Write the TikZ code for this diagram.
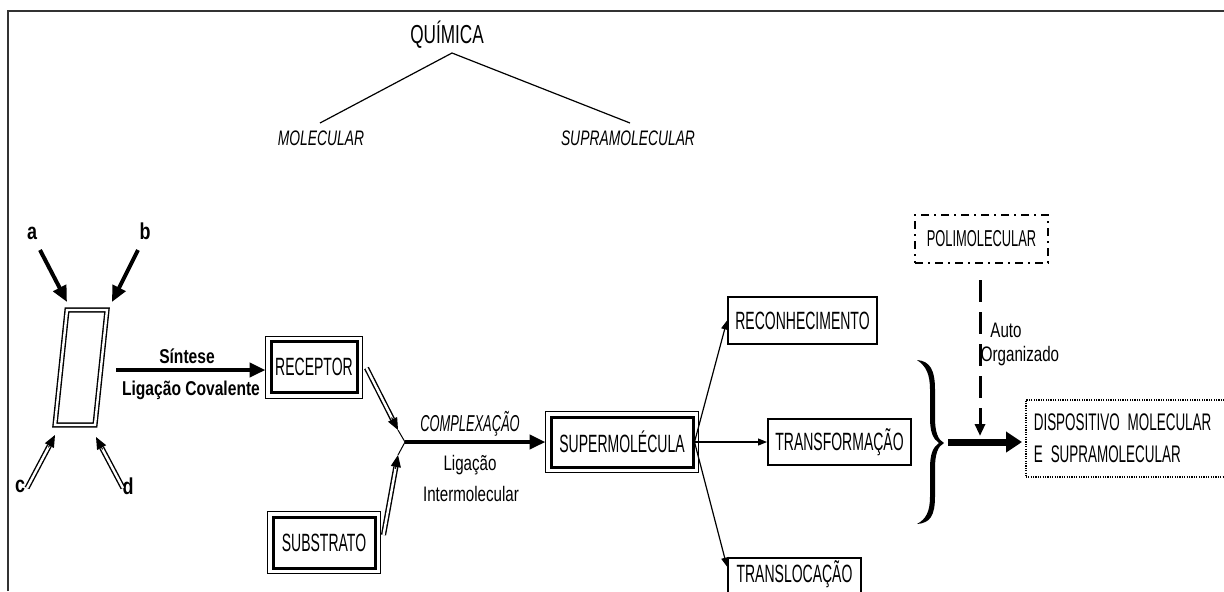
\documentclass[tikz,border=0pt]{standalone}
\usepackage{fontspec}
\setmainfont{Liberation Sans}
\newfontfamily\capf{Liberation Sans}[FakeStretch=0.56]
\newfontfamily\midf{Liberation Sans}[FakeStretch=0.66]
\newfontfamily\mixf{Liberation Sans}[FakeStretch=0.72]
\newfontfamily\boldf{Liberation Sans}[FakeStretch=0.78]
\usetikzlibrary{arrows.meta,calc}
\newcommand{\dblarr}[2]{%
  \draw[dbl, shorten >=6pt] #1 -- #2;
  \draw[line width=0.5pt, -{Triangle[length=6pt,width=5pt]}] ($#2!7pt!#1$) -- #2;}
\tikzset{
  dbl/.style={double=white, double distance=1.2pt, line width=0.7pt},
  fat/.style={line width=2pt, -{Triangle[length=8pt,width=7pt]}},
  thinarr/.style={line width=0.6pt, -{Triangle[length=4.5pt,width=3.5pt]}},
  capbox/.style={draw, line width=1pt, inner sep=0pt, font=\capf\fontsize{12.5}{15}\selectfont},
  dbox/.style={draw, line width=1.5pt, inner sep=0pt, font=\capf\fontsize{12.5}{15}\selectfont},
  lbl/.style={font=\boldf\bfseries\fontsize{10}{12}\selectfont, inner sep=0pt},
  abcd/.style={font=\boldf\bfseries\fontsize{11.5}{13}\selectfont, inner sep=0pt},
  mixlbl/.style={font=\mixf\fontsize{10.5}{12}\selectfont, inner sep=0pt},
  itlbl/.style={font=\midf\itshape\fontsize{10.5}{12}\selectfont, inner sep=0pt}
}
\begin{document}
\begin{tikzpicture}[x=0.5pt,y=-0.5pt]
\useasboundingbox (0,0) rectangle (1224,591);
% frame
\draw[line width=1pt, black!80] (8,591) -- (8,11) -- (1224,11);

% tree
\node[font=\midf\fontsize{13}{15}\selectfont, inner sep=0pt] (quim) at (447,35) {QUÍMICA};
\node[itlbl] (mol) at (321,138) {MOLECULAR};
\node[itlbl] (supra) at (628,138) {SUPRAMOLECULAR};
\coordinate (qv) at (452,53);
\coordinate (ml) at (320,123);
\coordinate (sl) at (630,123);
\draw[line width=0.6pt] (ml) -- (qv) -- (sl);

% parallelogram
\coordinate (p1) at (67,310);
\coordinate (p2) at (107,310);
\coordinate (p3) at (95,425);
\coordinate (p4) at (55,425);
\draw[dbl] (p1) -- (p2) -- (p3) -- (p4) -- cycle;
\node[abcd] (la) at (32,233) {a};
\node[abcd] (lb) at (145,231) {b};
\node[abcd] (lc) at (20,486) {c};
\node[abcd] (ld) at (128,486) {d};
\draw[fat] ($(la)+(8,17)$) -- ($(p1)+(0,-8)$);
\draw[fat] ($(lb)+(-7,19)$) -- ($(p2)+(5,-8)$);
\dblarr{($(lc)+(7,2)$)}{($(p4)+(0,10)$)}
\dblarr{($(ld)+(-5,2)$)}{($(p3)+(1,12)$)}

% synthesis
\node[dbox] (rec) at (314,367) [minimum width=43pt, minimum height=25.5pt] {RECEPTOR};
\node[dbox] (sub) at (324,542.5) [minimum width=51pt, minimum height=25.5pt] {SUBSTRATO};
\node[dbox] (sup) at (622,442) [minimum width=71pt, minimum height=25pt] {SUPERMOLÉCULA};
\foreach \n in {rec,sub,sup}
  \draw[line width=0.5pt] ([shift={(-4,-4)}]\n.north west) rectangle ([shift={(4,4)}]\n.south east);

\coordinate (sst) at (116,370);
\draw[fat, shorten >=2pt] (sst) -- (sst -| rec.west);
\node[lbl] at (187,356) {Síntese};
\node[lbl] at (191,390) {Ligação Covalente};

% complexation
\coordinate (jn) at (405,442);
\coordinate (j1) at (398,430);
\coordinate (j2) at (398,455);
\draw[line width=0.5pt] (j1) -- (jn) -- (j2);
\dblarr{($(rec.east)+(8,1)$)}{(j1)}
\dblarr{($(sub.east)+(7,-7.5)$)}{(j2)}
\draw[fat, shorten >=2pt] (jn) -- (sup.west);
\node[font=\capf\itshape\fontsize{11.5}{13}\selectfont, inner sep=0pt] at (470,424) {COMPLEXAÇÃO};
\node[mixlbl] at (470,465) {Ligação};
\node[mixlbl] at (471,494) {Intermolecular};

% outcomes
\node[capbox, minimum width=74.5pt, minimum height=23.5pt] (rcg) at (802.5,320.5) {RECONHECIMENTO};
\node[capbox, minimum width=71.5pt, minimum height=23pt] (trf) at (839.5,442) {TRANSFORMAÇÃO};
\node[capbox, minimum width=66.5pt, minimum height=23pt] (trl) at (794.5,581) {};
\node[font=\capf\fontsize{12.5}{15}\selectfont, inner sep=0pt] at (794.5,574) {TRANSLOCAÇÃO};
\draw[thinarr] (sup.east) -- (rcg.west);
\draw[thinarr] (sup.east) -- (trf.west);
\draw[thinarr] (sup.east) -- ($(trl.north west)!0.2!(trl.south west)$);

% brace
\fill (917,360) .. controls (930,361) and (935,370) .. (935,390) -- (935,418)
  .. controls (935,432) and (938,440) .. (944,443)
  .. controls (938,446) and (935,454) .. (935,468) -- (935,496)
  .. controls (935,516) and (930,523) .. (917,524)
  .. controls (926,519) and (930,512) .. (930,496) -- (930,468)
  .. controls (930,454) and (933,447) .. (939,443)
  .. controls (933,439) and (930,432) .. (930,418) -- (930,390)
  .. controls (930,374) and (926,366) .. (917,360) -- cycle;
\coordinate (brtip) at (943,442);

% device
\node[draw, line width=0.8pt, dash pattern=on 0.6pt off 0.6pt, anchor=west, align=left,
  inner xsep=4pt, inner ysep=0pt, minimum height=38.5pt, text width=110pt,
  font=\capf\fontsize{12}{16}\selectfont] (disp) at (1025,438.5)
  {DISPOSITIVO MOLECULAR\\E SUPRAMOLECULAR};
\draw[line width=3.5pt, -{Triangle[length=8pt,width=10pt]}, shorten <=2.5pt, shorten >=1.5pt]
  (brtip) -- (brtip -| disp.west);

% polymolecular
\node[draw, line width=1pt, dash pattern=on 4pt off 2.5pt on 1pt off 2.5pt,
  minimum width=66.5pt, minimum height=24pt, inner sep=0pt,
  font=\capf\fontsize{11.5}{13}\selectfont] (pol) at (981.5,239) {POLIMOLECULAR};
\draw[line width=1.5pt, dash pattern=on 11pt off 5pt, shorten <=8pt, shorten >=3pt,
  -{Triangle[length=6pt,width=5pt]}] (pol.south -| 980,0) -- (980,442);
\node[mixlbl] at (1006,330) {Auto};
\node[mixlbl] at (1020,356) {Organizado};
\end{tikzpicture}
\end{document}
